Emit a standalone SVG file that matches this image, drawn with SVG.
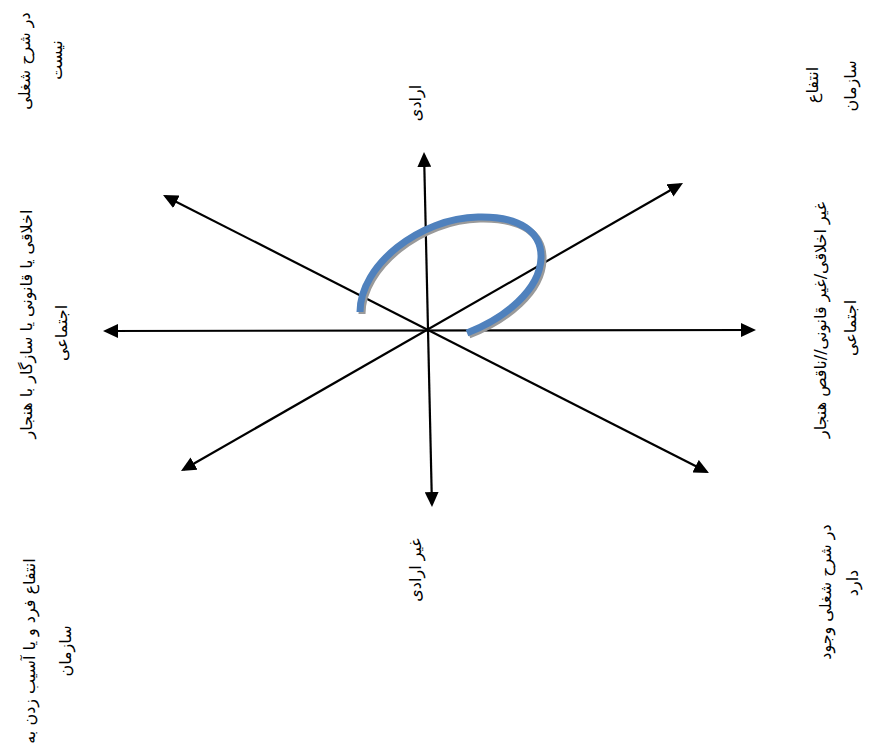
<svg xmlns="http://www.w3.org/2000/svg" width="870" height="748" viewBox="0 0 870 748">
<style>
text{font-family:"DejaVu Sans",sans-serif;font-size:16px;fill:#000;text-anchor:middle}
.ax{stroke:#000;stroke-width:2.2;fill:none;marker-start:url(#ah);marker-end:url(#ah)}
.arc{fill:none;stroke-width:7;stroke-linecap:butt}
</style>
<defs>
<marker id="ah" viewBox="0 0 15 14" refX="12" refY="7" markerWidth="15" markerHeight="14" markerUnits="userSpaceOnUse" orient="auto-start-reverse">
<path d="M0,0 L15,7 L0,14 z" fill="#000"/>
</marker>
</defs>
<rect width="870" height="748" fill="#fff"/>
<g id="connectors">
<line class="ax" x1="424.07" y1="155" x2="431.93" y2="504"/>
<line class="ax" x1="106" y1="331" x2="753" y2="330"/>
<line class="ax" x1="165.7" y1="196.4" x2="706.3" y2="471.6"/>
<line class="ax" x1="680.4" y1="184.5" x2="183.6" y2="469.5"/>
</g>
<g id="cycle">
<path class="arc" stroke="#9a9a9a" d="M362,314 C362,267 422,220 480,219 C522,218 544,234 543,260 C542,292 507,320 469,335"/>
<path class="arc" stroke="#4f81bd" d="M360,312 C360,265 420,218 478,217 C520,216 542,232 541,258 C540,290 505,318 467,333"/>
</g>
<g id="top-left">
<text transform="translate(30,61) rotate(-90)">در شرح شغلی</text>
<text transform="translate(62,60) rotate(-90)">نیست</text>
</g>
<g id="left">
<text transform="translate(32,324) rotate(-90)">اخلاقی یا قانونی یا سازگار با هنجار</text>
<text transform="translate(67,333) rotate(-90)">اجتماعی</text>
</g>
<g id="bottom-left">
<text transform="translate(35,651) rotate(-90)">انتفاع فرد و یا آسیب زدن به</text>
<text transform="translate(71,651) rotate(-90)">سازمان</text>
</g>
<g id="top">
<text transform="translate(421,103) rotate(-90)">ارادی</text>
</g>
<g id="bottom">
<text transform="translate(421,570) rotate(-90)">غیر ارادی</text>
</g>
<g id="top-right">
<text transform="translate(818,85) rotate(-90)">انتفاع</text>
<text transform="translate(856,86) rotate(-90)">سازمان</text>
</g>
<g id="right">
<text transform="translate(826,320) rotate(-90)">غیر اخلاقی/غیر قانونی//ناقص هنجار</text>
<text transform="translate(856,328) rotate(-90)">اجتماعی</text>
</g>
<g id="bottom-right">
<text transform="translate(831,592) rotate(-90)">در شرح شغلی وجود</text>
<text transform="translate(858,583) rotate(-90)">دارد</text>
</g>
</svg>
